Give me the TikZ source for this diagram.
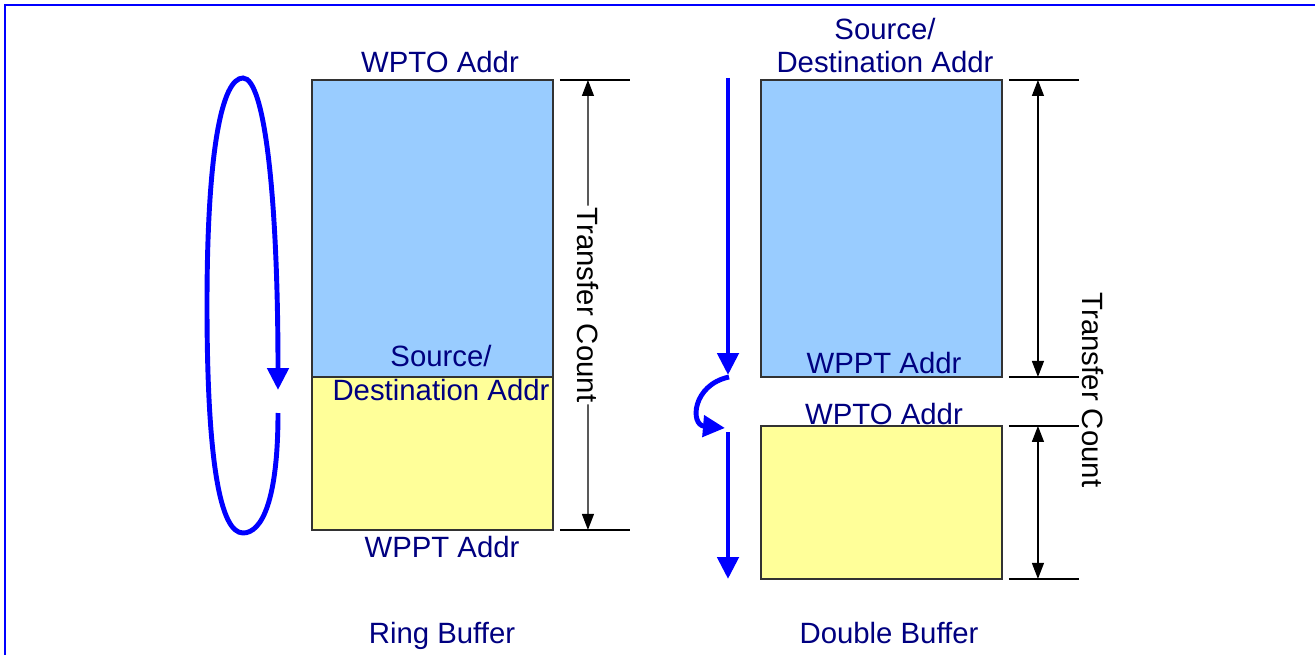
\documentclass[tikz,border=0pt]{standalone}
\usepackage{fontspec}
\setmainfont{Liberation Sans}
\usetikzlibrary{arrows.meta,positioning}
\definecolor{bufblue}{RGB}{153,204,255}
\definecolor{bufyellow}{RGB}{255,255,153}
\definecolor{addrblue}{RGB}{0,0,128}
\definecolor{edgegray}{RGB}{50,50,50}
\tikzset{
  buf/.style={draw=edgegray, line width=0.8pt, inner sep=0pt, outer sep=0pt,
    anchor=north west, minimum width=4.82cm},
  addr/.style={text=addrblue, font=\fontsize{16.7}{19.3}\selectfont,
    inner sep=0pt, anchor=base, align=center},
  count/.style={font=\fontsize{16.7}{19.3}\selectfont, rotate=-90, inner sep=1pt},
  ext/.style={line width=0.7pt},
  dim/.style={line width=0.7pt},
  dimtip/.tip={Triangle[length=0.32cm,width=0.24cm]},
  flow/.style={draw=blue, line width=2.8pt, -{Triangle[length=0.44cm,width=0.42cm]}},
}
\begin{document}
\begin{tikzpicture}[x=0.02cm,y=-0.02cm]
  \useasboundingbox (0,0) rectangle (1315,655);
  \draw[blue, line width=1.2pt] (5,655) -- (5,5) -- (1315,5);

  % ring buffer
  \node[buf, fill=bufblue, minimum height=5.94cm] (ringblue) at (312,80) {};
  \node[buf, fill=bufyellow, minimum height=3.06cm, below=0pt of ringblue] (ringyellow) {};
  \node[addr] (ringwpto) at (440,73) {WPTO Addr};
  \node[addr] (ringsrc) at (441,400) {Source/\\Destination Addr};
  \node[addr] (ringwppt) at (442,557) {WPPT Addr};
  \node[addr] (ringname) at (442,643) {Ring Buffer};

  \draw[ext] ([xshift=0.14cm]ringblue.north east) -- ++(1.4cm,0);
  \draw[ext] ([xshift=0.14cm]ringyellow.south east) -- ++(1.4cm,0);
  \coordinate (ringhi) at ([xshift=0.7cm]ringblue.north east);
  \coordinate (ringlo) at ([xshift=0.7cm]ringyellow.south east);
  \node[count] (ringcount) at (588,305) {Transfer Count};
  \draw[dim, dimtip-] (ringhi) -- (ringcount);
  \draw[dim, -dimtip] (ringcount) -- (ringlo);

  \coordinate (loopin) at (278,413);
  \coordinate (loopout) at (278,390);
  \draw[flow] (loopin) .. controls (278,500) and (262,533) .. (243,533)
    .. controls (220,533) and (207,460) .. (207,305)
    .. controls (207,150) and (222,78) .. (243,78)
    .. controls (265,78) and (278,200) .. (loopout);

  % double buffer
  \node[buf, fill=bufblue, minimum height=5.94cm] (dbblue) at (761,80) {};
  \node[buf, fill=bufyellow, minimum height=3.06cm, below=0.98cm of dbblue] (dbyellow) {};
  \node[addr] (dbsrc) at (885,73) {Source/\\Destination Addr};
  \node[addr] (dbwppt) at (884,373) {WPPT Addr};
  \node[addr] (dbwpto) at (884,424) {WPTO Addr};
  \node[addr] (dbname) at (889,643) {Double Buffer};

  \foreach \a in {dbblue.north east, dbblue.south east, dbyellow.north east, dbyellow.south east}
    \draw[ext] ([xshift=0.14cm]\a) -- ++(1.4cm,0);
  \coordinate (dbhiA) at ([xshift=0.72cm]dbblue.north east);
  \coordinate (dbloA) at ([xshift=0.72cm]dbblue.south east);
  \coordinate (dbhiB) at ([xshift=0.72cm]dbyellow.north east);
  \coordinate (dbloB) at ([xshift=0.72cm]dbyellow.south east);
  \draw[dim, dimtip-dimtip] (dbhiA) -- (dbloA);
  \draw[dim, dimtip-dimtip] (dbhiB) -- (dbloB);
  \node[count] (dbcount) at (1093,390) {Transfer Count};

  \coordinate (dbstart) at (728,78);
  \coordinate (dbstop) at (728,375);
  \coordinate (dbhookin) at (729,377);
  \coordinate (dbhookout) at (725,428);
  \coordinate (dbgo) at (728,432);
  \coordinate (dbend) at (728,579);
  \draw[flow] (dbstart) -- (dbstop);
  \draw[flow] (dbhookin) .. controls (692,385) and (690,425) .. (dbhookout);
  \draw[flow] (dbgo) -- (dbend);
\end{tikzpicture}
\end{document}
